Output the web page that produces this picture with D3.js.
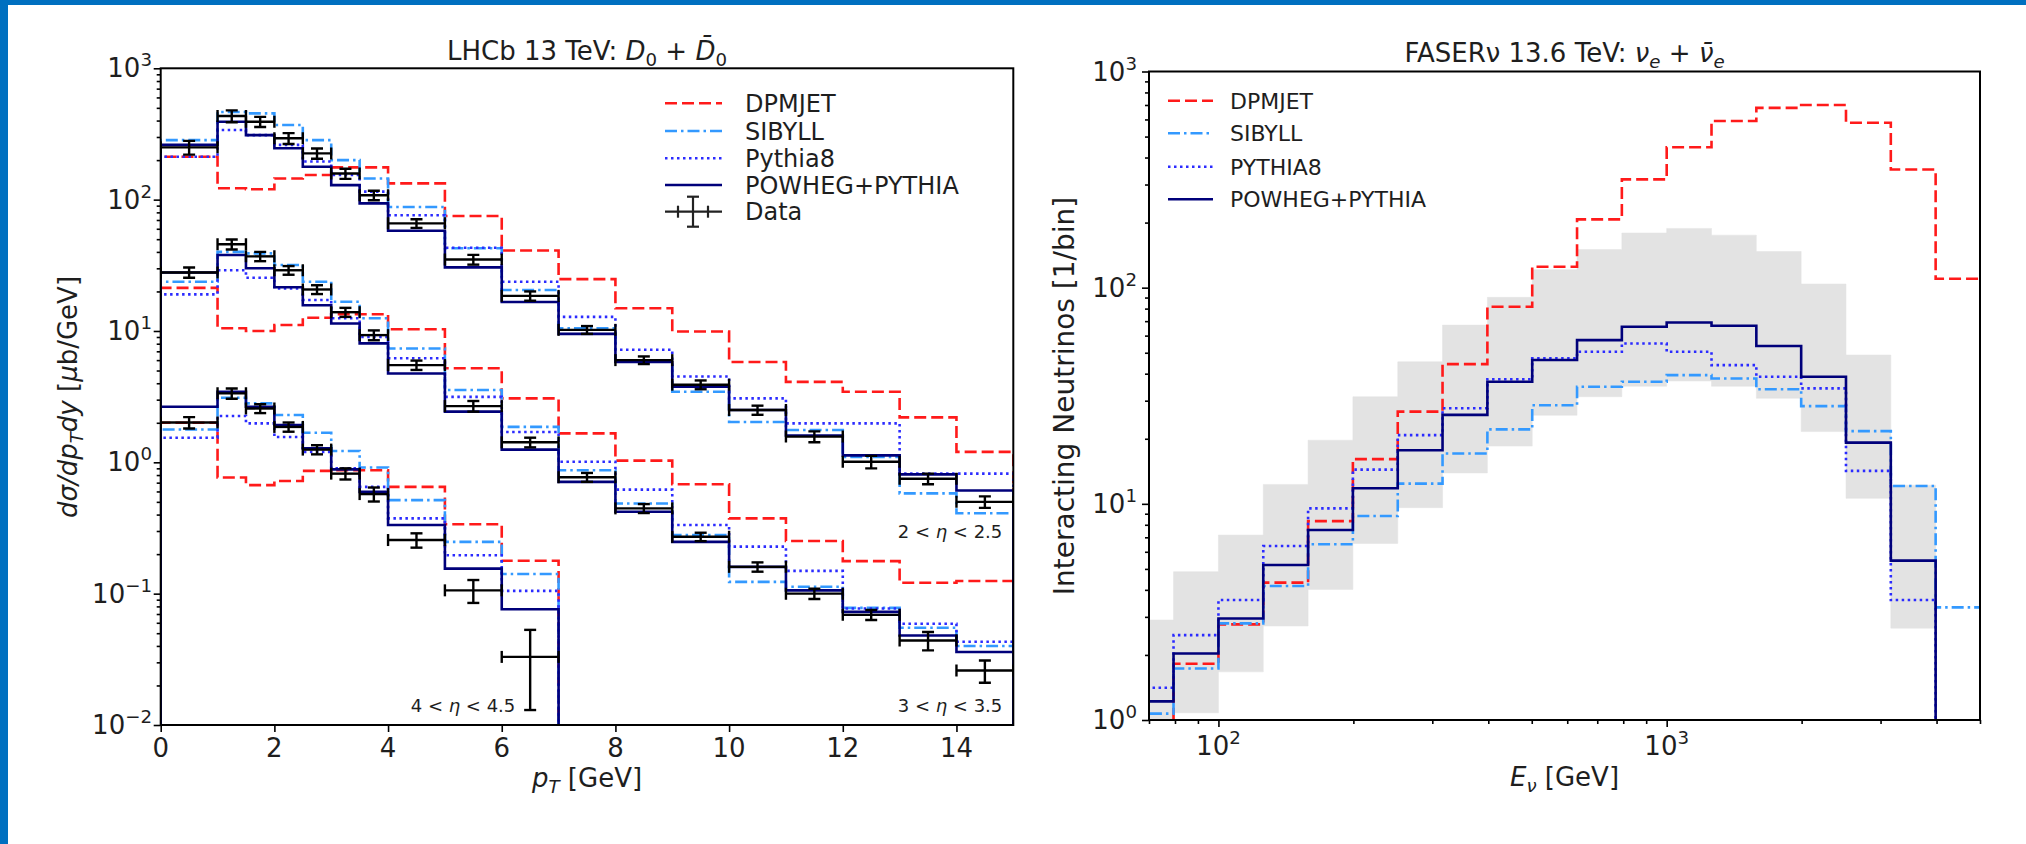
<!DOCTYPE html>
<html><head><meta charset="utf-8">
<script src="https://cdn.jsdelivr.net/npm/d3@7"></script>
<style>html,body{margin:0;padding:0;background:#fff;} svg{display:block;}</style>
</head><body><svg id="c" width="2026" height="844"></svg>
<script>
// ================= DATA =================
// Left panel: LHCb 13 TeV D0 + D0bar, pT bins [GeV]
const ptEdges = [0,1,1.5,2,2.5,3,3.5,4,5,6,7,8,9,10,11,12,13,14,15];
const ptEdgesEta4 = [0,1,1.5,2,2.5,3,3.5,4,5,6,7];
const ptTicks = [0,2,4,6,8,10,12,14];

// 2 < eta < 2.5
const dpmjetEta2 = [212,122,120,145,154,176,176,133,75,41,24.8,14.9,9.9,5.8,4.1,3.45,2.2,1.2];
const sibyllEta2 = [284,465,454,370,284,200,145,88,42.6,20.5,10.5,5.9,3.45,2.03,1.76,1.1,0.58,0.41];
const pythiaEta2 = [212,339,310,261,195,154,115,76,43,23.7,12.8,7.2,4.5,3.07,1.98,1.98,0.82,0.82];
const powhegEta2 = [261,392,310,246,178,129,93.7,58,30.5,16.6,9.5,5.8,3.76,2.5,1.6,1.13,0.81,0.61];
const dataEta2    = [250,433,392,293,225,158,108,66,35,18.5,10.2,6.0,3.9,2.5,1.57,1.01,0.75,0.50];
const dataEta2Err = [30,45,35,28,20,14,9,5,3,1.5,0.7,0.4,0.3,0.2,0.15,0.11,0.07,0.05];

// 3 < eta < 3.5
const dpmjetEta3 = [21.3,10.5,10.0,11.1,12.6,13.4,13.4,10.3,5.2,3.07,1.66,1.03,0.68,0.374,0.252,0.177,0.121,0.125];
const sibyllEta3 = [23.7,40,39,31.8,23.7,16.7,12.5,7.36,3.55,1.86,0.87,0.486,0.28,0.123,0.113,0.078,0.055,0.040];
const pythiaEta3 = [19,29,25.4,21.1,17.2,12.5,9.0,6.2,3.15,1.7,1.01,0.62,0.333,0.228,0.149,0.077,0.059,0.043];
const powhegEta3 = [27.9,37.9,30,21.5,15.7,11.4,8.05,4.75,2.43,1.25,0.71,0.42,0.248,0.16,0.106,0.0727,0.048,0.036];
const dataEta3    = [27.9,45.7,37,29,20.7,13.9,9.3,5.5,2.68,1.42,0.77,0.446,0.271,0.16,0.10,0.069,0.044,0.026];
const dataEta3Err = [2.5,4,3,2.2,1.6,1.1,0.8,0.45,0.25,0.12,0.06,0.035,0.02,0.013,0.009,0.006,0.007,0.005];

// 4 < eta < 4.5
const dpmjetEta4 = [2.0,0.767,0.67,0.72,0.86,0.87,0.87,0.65,0.338,0.178];
const sibyllEta4 = [1.78,3.1,2.81,2.29,1.68,1.22,0.914,0.515,0.248,0.141];
const pythiaEta4 = [1.54,2.25,1.98,1.56,1.2,0.9,0.65,0.374,0.196,0.105];
const powhegEta4 = [2.65,3.45,2.65,1.92,1.28,0.883,0.596,0.333,0.155,0.076];
const dataEta4    = [2.01,3.35,2.57,1.86,1.25,0.82,0.573,0.256,0.106,0.033];
const dataEta4Err = [0.2,0.3,0.2,0.15,0.1,0.08,0.07,0.032,0.021,0.02];

// Right panel: FASERnu 13.6 TeV, nu_e + nu_e-bar, energy bins [GeV]
const eEdges = [63.1,79.4,100,125.9,158.5,199.5,251.2,316.2,398.1,501.2,631.0,794.3,1000,1258.9,1584.9,1995.3,2511.9,3162.3,3981.1,5011.9];
const dpmjetNu = [0.8,1.82,2.77,4.32,8.32,16.1,26.7,44.3,81.6,125,207,317,446,590,679,700,579,352,110];
const sibyllNu = [1.07,1.73,2.8,4.17,6.5,8.78,12.4,17.1,22.1,28.6,34.8,36.7,39.4,38,33.9,28.3,21.7,12.1,3.32];
const pythiaNu = [1.41,2.47,3.59,6.38,9.53,14.4,20.8,27.7,37.7,47.1,50.5,55.2,50.5,43.8,38.7,34.2,14.2,3.59,0];
const powhegNu = [1.22,2.03,2.95,5.21,7.57,11.8,17.7,25.8,36.7,46.3,57.2,65.9,69,66.7,53.7,38.7,19.2,5.46,0];
const bandLoNu = [0.9,1.08,1.67,2.72,4.02,6.56,9.6,13.9,18.5,25.7,31.3,35,37,35,30.8,21.6,10.6,2.66];
const bandHiNu = [2.9,4.85,7.17,12.3,19.7,31.3,45.4,67.1,90.2,121,150,179,188,175,147,104,48.8,12.2];

const leftLegend  = ["DPMJET","SIBYLL","Pythia8","POWHEG+PYTHIA","Data"];
const rightLegend = ["DPMJET","SIBYLL","PYTHIA8","POWHEG+PYTHIA"];
const leftYTickExp  = [-2,-1,0,1,2,3];
const rightYTickExp = [0,1,2,3];
const rightXTickExp = [2,3];

// ================= STYLE =================
const FONT = '"DejaVu Sans", sans-serif';
const TXT = '#1e1e1e';
const styles = {
  DPMJET: {color:'#ff1a1a', dash:'12,5', w:2.6},
  SIBYLL: {color:'#3399ff', dash:'12,4,2.5,4', w:2.6},
  PYTHIA: {color:'#2b2bff', dash:'2.5,3.5', w:2.6},
  POWHEG: {color:'#00007a', dash:null, w:2.6}
};

const svg = d3.select('#c');
svg.append('rect').attr('width',2026).attr('height',844).attr('fill','#fff');
svg.append('rect').attr('x',0).attr('y',0).attr('width',2026).attr('height',5).attr('fill','#0070c0');
svg.append('rect').attr('x',0).attr('y',0).attr('width',8).attr('height',844).attr('fill','#0070c0');

function rich(parent, x, y, segs, o = {}) {
  const fs = o.fs || 24;
  const g = parent.append('g').attr('transform', `translate(${x},${y})` + (o.rotate ? ' rotate(-90)' : ''));
  const t = g.append('text').attr('font-size', fs).attr('text-anchor', o.anchor || 'start')
    .attr('fill', o.fill || TXT).attr('font-family', FONT).style('white-space','pre');
  let cur = 0;
  segs.forEach(s => {
    const shift = s.sub ? 0.24*fs : s.sup ? -0.42*fs : 0;
    const ts = t.append('tspan').text(s.t).attr('dy', shift - cur);
    cur = shift;
    if (s.sub || s.sup) ts.attr('font-size', 0.7*fs);
    if (s.it) ts.attr('font-style', 'italic');
  });
  return t;
}
const pow10 = e => [{t:'10'},{t:(e<0?'\u2212':'')+Math.abs(e), sup:true}];

function stepPath(xs, ys, edges, vals, yBot) {
  const low = yBot + 40;
  const Y = v => (v > 0 ? Math.min(ys(v), low) : low);
  let d = `M${xs(edges[0])},${low}`;
  vals.forEach((v,i) => { const yy = Y(v); d += `L${xs(edges[i])},${yy}L${xs(edges[i+1])},${yy}`; });
  d += `L${xs(edges[vals.length])},${low}`;
  return d;
}
function drawStep(g, xs, ys, edges, vals, st, yBot) {
  const p = g.append('path').attr('d', stepPath(xs, ys, edges, vals, yBot))
    .attr('fill','none').attr('stroke', st.color).attr('stroke-width', st.w);
  if (st.dash) p.attr('stroke-dasharray', st.dash);
}
function errbars(g, xs, ys, edges, vals, errs) {
  const cap = 6;
  vals.forEach((v,i) => {
    const x0 = xs(edges[i]), x1 = xs(edges[i+1]), xm = (x0+x1)/2, yv = ys(v);
    const ylo = ys(Math.max(v - errs[i], 1e-5)), yhi = ys(v + errs[i]);
    const lines = [[x0,yv,x1,yv],[x0,yv-cap,x0,yv+cap],[x1,yv-cap,x1,yv+cap],
                   [xm,ylo,xm,yhi],[xm-cap,ylo,xm+cap,ylo],[xm-cap,yhi,xm+cap,yhi]];
    lines.forEach(l => g.append('line').attr('x1',l[0]).attr('y1',l[1]).attr('x2',l[2]).attr('y2',l[3])
      .attr('stroke','#000').attr('stroke-width',2.4));
  });
}
function styleAxis(sel) {
  sel.select('.domain').remove();
  sel.selectAll('.tick line').attr('stroke','#000').attr('stroke-width',1.6);
  sel.selectAll('.tick text').remove();
}

// ================= LEFT PANEL =================
const LX0 = 160.7, LX1 = 1013.3, LY0 = 68.3, LY1 = 725;
const xL = d3.scaleLinear().domain([0,15]).range([LX0, LX1]);
const yL = d3.scaleLog().domain([1e-2,1e3]).range([LY1, LY0]);

svg.append('clipPath').attr('id','clipL').append('rect').attr('x',LX0).attr('y',LY0).attr('width',LX1-LX0).attr('height',LY1-LY0);
const gL = svg.append('g').attr('clip-path','url(#clipL)');

const leftModel = [
  ['DPMJET', [dpmjetEta2, dpmjetEta3, dpmjetEta4]],
  ['SIBYLL', [sibyllEta2, sibyllEta3, sibyllEta4]],
  ['PYTHIA', [pythiaEta2, pythiaEta3, pythiaEta4]],
  ['POWHEG', [powhegEta2, powhegEta3, powhegEta4]]
];
const leftEdgesSets = [ptEdges, ptEdges, ptEdgesEta4];
leftModel.forEach(([k, sets]) => sets.forEach((vals, j) => drawStep(gL, xL, yL, leftEdgesSets[j], vals, styles[k], LY1)));
errbars(gL, xL, yL, ptEdges, dataEta2, dataEta2Err);
errbars(gL, xL, yL, ptEdges, dataEta3, dataEta3Err);
errbars(gL, xL, yL, ptEdgesEta4, dataEta4, dataEta4Err);

// axes
const lMinor = [];
for (let e = -2; e < 3; e++) for (let m = 2; m <= 9; m++) lMinor.push(m * Math.pow(10, e));
svg.append('g').attr('transform',`translate(0,${LY1})`)
  .call(d3.axisBottom(xL).tickValues(ptTicks).tickSize(7)).call(styleAxis);
svg.append('g').attr('transform',`translate(${LX0},0)`)
  .call(d3.axisLeft(yL).tickValues(leftYTickExp.map(e => Math.pow(10,e))).tickSize(7)).call(styleAxis);
svg.append('g').attr('transform',`translate(${LX0},0)`)
  .call(d3.axisLeft(yL).tickValues(lMinor).tickSize(4)).call(styleAxis);
svg.append('rect').attr('x',LX0).attr('y',LY0).attr('width',LX1-LX0).attr('height',LY1-LY0)
  .attr('fill','none').attr('stroke','#000').attr('stroke-width',2);

ptTicks.forEach(t => rich(svg, xL(t), 757, [{t:String(t)}], {fs:26, anchor:'middle'}));
leftYTickExp.forEach(e => rich(svg, 152, yL(Math.pow(10,e)) + 9, pow10(e), {fs:26, anchor:'end'}));

rich(svg, (LX0+LX1)/2, 60, [{t:'LHCb 13 TeV: '},{t:'D',it:true},{t:'0',sub:true},{t:' + '},{t:'D\u0304',it:true},{t:'0',sub:true}], {fs:26, anchor:'middle'});
rich(svg, (LX0+LX1)/2, 787, [{t:'p',it:true},{t:'T',it:true,sub:true},{t:' [GeV]'}], {fs:26, anchor:'middle'});
rich(svg, 77, 397, [{t:'d\u03c3/dp',it:true},{t:'T',it:true,sub:true},{t:'dy',it:true},{t:' ['},{t:'\u03bc',it:true},{t:'b/GeV]'}], {fs:26, anchor:'middle', rotate:true});

rich(svg, 950, 538, [{t:'2 < '},{t:'\u03b7',it:true},{t:' < 2.5'}], {fs:18, anchor:'middle'});
rich(svg, 950, 712, [{t:'3 < '},{t:'\u03b7',it:true},{t:' < 3.5'}], {fs:18, anchor:'middle'});
rich(svg, 463, 712, [{t:'4 < '},{t:'\u03b7',it:true},{t:' < 4.5'}], {fs:18, anchor:'middle'});

// left legend
const legL = svg.append('g');
const legLY = [103.3, 131, 158.3, 185, 211.7];
['DPMJET','SIBYLL','PYTHIA','POWHEG'].forEach((k,i) => {
  const st = styles[k];
  const l = legL.append('line').attr('x1',665).attr('x2',722).attr('y1',legLY[i]).attr('y2',legLY[i])
    .attr('stroke',st.color).attr('stroke-width',st.w);
  if (st.dash) l.attr('stroke-dasharray', st.dash);
});
{
  const y = legLY[4];
  [[665,y,722,y],[678,y-6,678,y+6],[708,y-6,708,y+6],[693,y-15,693,y+15],[687,y-15,699,y-15],[687,y+15,699,y+15]]
    .forEach(l => legL.append('line').attr('x1',l[0]).attr('y1',l[1]).attr('x2',l[2]).attr('y2',l[3])
      .attr('stroke','#222').attr('stroke-width',2.2));
}
leftLegend.forEach((s,i) => rich(legL, 745, legLY[i] + 8.5, [{t:s}], {fs:24}));

// ================= RIGHT PANEL =================
const RX0 = 1149, RX1 = 1980, RY0 = 71.5, RY1 = 720;
const xR = d3.scaleLog().domain([70,5000]).range([RX0, RX1]);
const yR = d3.scaleLog().domain([1,1000]).range([RY1, RY0]);

svg.append('clipPath').attr('id','clipR').append('rect').attr('x',RX0).attr('y',RY0).attr('width',RX1-RX0).attr('height',RY1-RY0);
const gR = svg.append('g').attr('clip-path','url(#clipR)');

// uncertainty band
{
  let d = `M${xR(eEdges[0])},${yR(bandHiNu[0])}`;
  bandHiNu.forEach((h,i) => { d += `L${xR(eEdges[i])},${yR(h)}L${xR(eEdges[i+1])},${yR(h)}`; });
  for (let i = bandLoNu.length - 1; i >= 0; i--) d += `L${xR(eEdges[i+1])},${yR(bandLoNu[i])}L${xR(eEdges[i])},${yR(bandLoNu[i])}`;
  d += 'Z';
  gR.append('path').attr('d', d).attr('fill','#e3e3e3').attr('stroke','#e3e3e3').attr('stroke-width',0.5);
}
drawStep(gR, xR, yR, eEdges, dpmjetNu, styles.DPMJET, RY1);
drawStep(gR, xR, yR, eEdges, sibyllNu, styles.SIBYLL, RY1);
drawStep(gR, xR, yR, eEdges, pythiaNu, styles.PYTHIA, RY1);
drawStep(gR, xR, yR, eEdges, powhegNu, styles.POWHEG, RY1);

const rxMinor = [70,80,90,200,300,400,500,600,700,800,900,2000,3000,4000,5000];
const ryMinor = [];
for (let e = 0; e < 3; e++) for (let m = 2; m <= 9; m++) ryMinor.push(m * Math.pow(10, e));
svg.append('g').attr('transform',`translate(0,${RY1})`)
  .call(d3.axisBottom(xR).tickValues(rightXTickExp.map(e => Math.pow(10,e))).tickSize(7)).call(styleAxis);
svg.append('g').attr('transform',`translate(0,${RY1})`)
  .call(d3.axisBottom(xR).tickValues(rxMinor).tickSize(4)).call(styleAxis);
svg.append('g').attr('transform',`translate(${RX0},0)`)
  .call(d3.axisLeft(yR).tickValues(rightYTickExp.map(e => Math.pow(10,e))).tickSize(7)).call(styleAxis);
svg.append('g').attr('transform',`translate(${RX0},0)`)
  .call(d3.axisLeft(yR).tickValues(ryMinor).tickSize(4)).call(styleAxis);
svg.append('rect').attr('x',RX0).attr('y',RY0).attr('width',RX1-RX0).attr('height',RY1-RY0)
  .attr('fill','none').attr('stroke','#000').attr('stroke-width',2);

rightXTickExp.forEach(e => rich(svg, xR(Math.pow(10,e)), 755, pow10(e), {fs:26, anchor:'middle'}));
rightYTickExp.forEach(e => rich(svg, 1137, yR(Math.pow(10,e)) + 9, pow10(e), {fs:26, anchor:'end'}));

rich(svg, (RX0+RX1)/2, 62, [{t:'FASER\u03bd 13.6 TeV: '},{t:'\u03bd',it:true},{t:'e',it:true,sub:true},{t:' + '},{t:'\u03bd\u0304',it:true},{t:'e',it:true,sub:true}], {fs:26, anchor:'middle'});
rich(svg, (RX0+RX1)/2, 786, [{t:'E',it:true},{t:'\u03bd',it:true,sub:true},{t:' [GeV]'}], {fs:26, anchor:'middle'});
rich(svg, 1074, 396, [{t:'Interacting Neutrinos [1/bin]'}], {fs:28, anchor:'middle', rotate:true});

const legR = svg.append('g');
const legRY = [100.7, 133.3, 166.7, 199.3];
['DPMJET','SIBYLL','PYTHIA','POWHEG'].forEach((k,i) => {
  const st = styles[k];
  const l = legR.append('line').attr('x1',1168).attr('x2',1213).attr('y1',legRY[i]).attr('y2',legRY[i])
    .attr('stroke',st.color).attr('stroke-width',st.w);
  if (st.dash) l.attr('stroke-dasharray', st.dash);
});
rightLegend.forEach((s,i) => rich(legR, 1230, legRY[i] + 8, [{t:s}], {fs:22}));
</script>
</body></html>
